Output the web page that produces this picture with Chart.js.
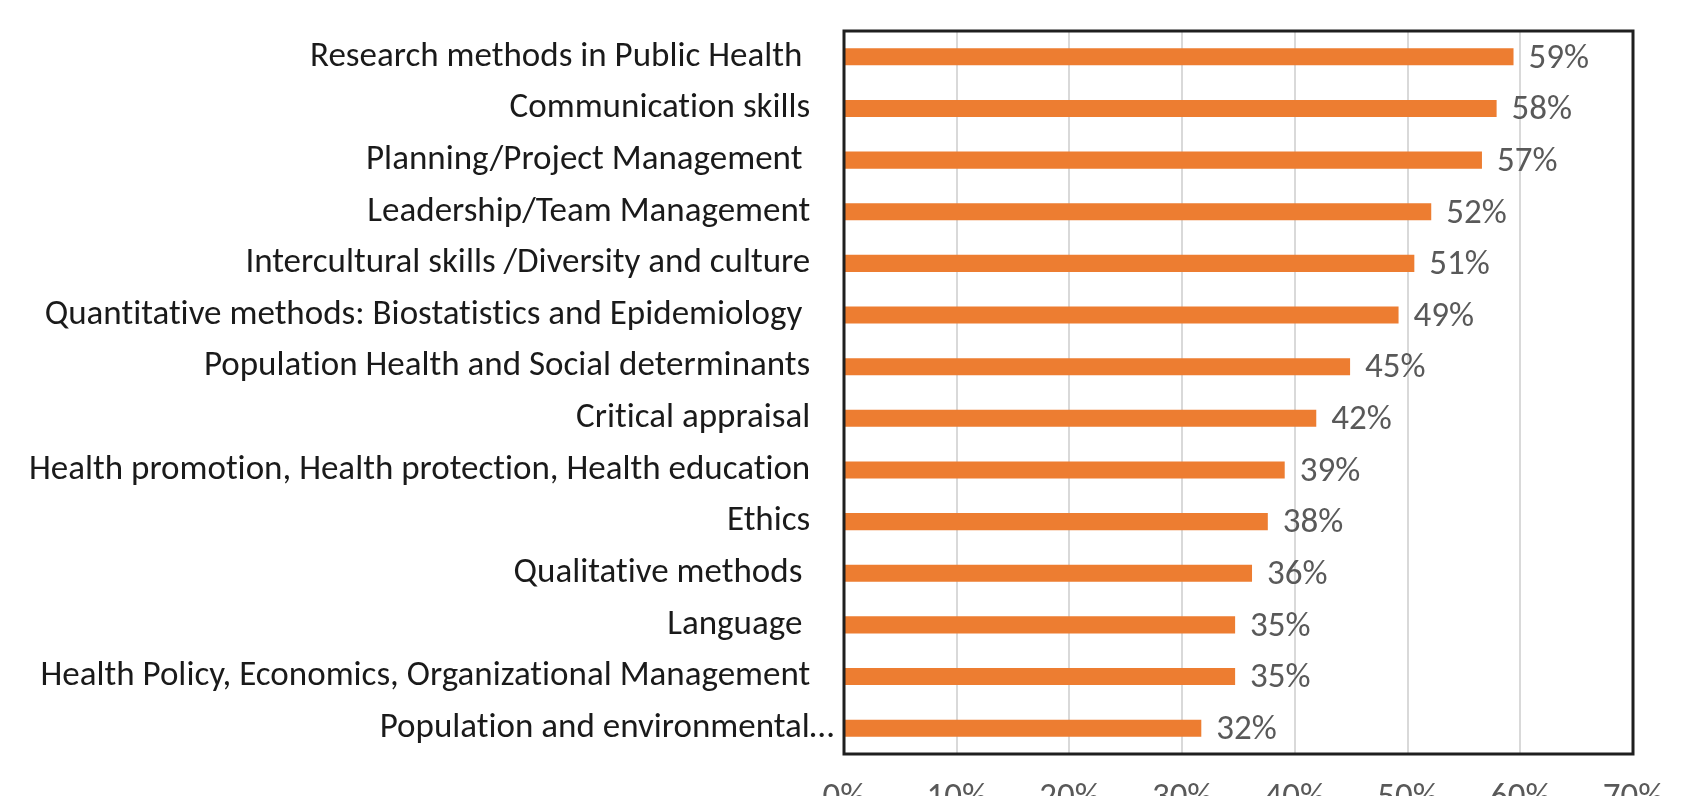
<!DOCTYPE html>
<html>
<head>
<meta charset="utf-8">
<script src="https://cdn.jsdelivr.net/npm/chart.js@4/dist/chart.umd.min.js"></script>
<style>
  html, body { margin: 0; padding: 0; background: #ffffff; overflow: hidden; }
  #wrap { position: relative; width: 1696px; height: 796px; }
  canvas { display: block; }
</style>
</head>
<body>
<div id="wrap"><canvas id="c" width="1696" height="796"></canvas></div>
<script>
const categories = [
  "Research methods in Public Health ",
  "Communication skills",
  "Planning/Project Management ",
  "Leadership/Team Management",
  "Intercultural skills /Diversity and culture",
  "Quantitative methods: Biostatistics and Epidemiology ",
  "Population Health and Social determinants",
  "Critical appraisal",
  "Health promotion, Health protection, Health education",
  "Ethics",
  "Qualitative methods ",
  "Language ",
  "Health Policy, Economics, Organizational Management",
  "Population and environmental…"
];
const values = [59.4, 57.9, 56.6, 52.1, 50.6, 49.2, 44.9, 41.9, 39.1, 37.6, 36.2, 34.7, 34.7, 31.7];
const xTicks = [0, 10, 20, 30, 40, 50, 60, 70];

const FONT = "Carlito, Calibri, Lato, 'Open Sans', sans-serif";

const noLig = {
  id: 'noLig',
  beforeDraw(chart) {
    try { chart.ctx.textRendering = 'optimizeSpeed'; } catch (e) {}
  }
};

const frame = {
  id: 'frame',
  afterDraw(chart) {
    const a = chart.chartArea, ctx = chart.ctx;
    ctx.save();
    ctx.strokeStyle = '#1f1f1f';
    ctx.lineWidth = 3;
    ctx.strokeRect(a.left, a.top, a.right - a.left, a.bottom - a.top);
    ctx.restore();
  }
};

const valueLabels = {
  id: 'valueLabels',
  afterDatasetsDraw(chart) {
    const ctx = chart.ctx;
    const meta = chart.getDatasetMeta(0);
    ctx.save();
    ctx.font = "35px " + FONT;
    ctx.fillStyle = '#595959';
    ctx.textAlign = 'left';
    ctx.textBaseline = 'middle';
    meta.data.forEach((bar, i) => {
      ctx.fillText(Math.round(values[i]) + '%', bar.x + 15, bar.y + 2);
    });
    ctx.restore();
  }
};

new Chart(document.getElementById('c'), {
  type: 'bar',
  data: {
    labels: categories,
    datasets: [{
      data: values,
      backgroundColor: '#ED7D31',
      borderWidth: 0,
      categoryPercentage: 1.0,
      barPercentage: 0.33
    }]
  },
  options: {
    indexAxis: 'y',
    responsive: false,
    animation: false,
    events: [],
    layout: { padding: { top: 27, right: 63, left: 0, bottom: 0 } },
    plugins: { legend: { display: false }, tooltip: { enabled: false } },
    scales: {
      x: {
        min: 0, max: 70,
        afterBuildTicks(scale) { scale.ticks = xTicks.map(v => ({ value: v })); },
        afterFit(scale) { scale.height = 42; },
        grid: { color: '#d9d9d9', lineWidth: 2, drawTicks: false },
        border: { display: false },
        ticks: {
          padding: 23,
          color: '#595959',
          font: { family: FONT, size: 35 },
          maxRotation: 0,
          callback: v => v + '%'
        }
      },
      y: {
        afterFit(scale) { scale.width = 844; },
        grid: { display: false, drawTicks: false },
        border: { display: false },
        ticks: {
          padding: 10,
          color: '#1a1a1a',
          font: { family: FONT, size: 35 },
          callback(v) {
            const s = categories[v];
            return s.endsWith('…') ? s : s + '   ';
          }
        }
      }
    }
  },
  plugins: [noLig, frame, valueLabels]
});
</script>
</body>
</html>
